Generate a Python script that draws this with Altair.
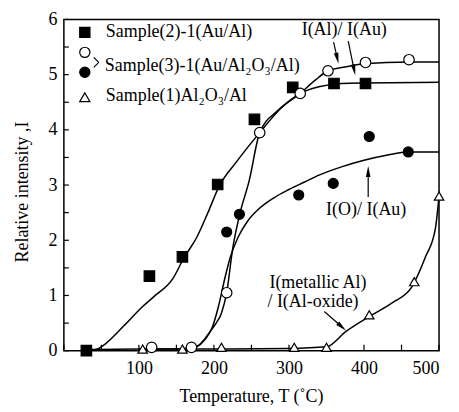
import math
import altair as alt
import pandas as pd

FONT = "Liberation Serif, Times New Roman, DejaVu Serif, serif"

# ---------------- measured points ----------------
sq_T = [30, 114, 158, 205, 254, 305, 360, 402]
sq_I = [0.0, 1.35, 1.70, 3.01, 4.19, 4.77, 4.84, 4.84]
oc_T = [117, 170, 217, 261, 315, 352, 402, 460]
oc_I = [0.06, 0.06, 1.05, 3.95, 4.66, 5.07, 5.22, 5.27]
fc_T = [217, 234, 313, 359, 407, 459]
fc_I = [2.15, 2.47, 2.82, 3.03, 3.88, 3.60]
tr_T = [105, 158, 210, 307, 350, 407, 467, 500]
tr_I = [0.03, 0.03, 0.06, 0.06, 0.06, 0.65, 1.25, 2.80]

# ---------------- drawn curves ----------------
sqc_T = [30, 45, 55, 80, 105, 120, 145, 160, 177, 192, 207, 230, 261, 290, 315, 340, 370, 400, 500]
sqc_I = [0.0, 0.03, 0.12, 0.45, 0.8, 0.98, 1.3, 1.68, 2.05, 2.5, 2.98, 3.42, 3.95, 4.4, 4.66, 4.78, 4.84, 4.85, 4.86]
occ_T = [100, 130, 160, 172, 180, 187, 195, 203, 210, 217, 225, 234, 247, 261, 285, 315, 335, 352, 375, 402, 430, 460, 500]
occ_I = [0.03, 0.03, 0.04, 0.06, 0.1, 0.2, 0.35, 0.5, 0.68, 1.05, 1.85, 2.45, 3.08, 3.95, 4.35, 4.66, 4.9, 5.07, 5.14, 5.2, 5.22, 5.23, 5.23]
fcc_T = [160, 177, 188, 198, 206, 214, 222, 232, 245, 260, 280, 300, 320, 340, 370, 400, 430, 459, 500]
fcc_I = [0.02, 0.07, 0.2, 0.43, 0.8, 1.28, 1.7, 2.05, 2.35, 2.57, 2.77, 2.92, 3.05, 3.18, 3.33, 3.45, 3.54, 3.6, 3.6]
trc_T = [30, 100, 200, 300, 350, 376, 407, 438, 464, 482, 495, 500]
trc_I = [0.02, 0.03, 0.03, 0.04, 0.07, 0.35, 0.62, 0.87, 1.16, 1.7, 2.2, 2.8]

x_ticks = [0, 50, 100, 150, 200, 250, 300, 350, 400, 450, 500]
y_ticks = [0, 0.5, 1, 1.5, 2, 2.5, 3, 3.5, 4, 4.5, 5, 5.5, 6]
x_labels = [100, 200, 300, 400, 500]
y_labels = [0, 1, 2, 3, 4, 5, 6]

W, H = 376, 332

xs = alt.Scale(domain=[0, 500], nice=False, zero=False)
ys = alt.Scale(domain=[0, 6], nice=False, zero=False)
xa = alt.Axis(values=x_labels, title=None, ticks=False, domain=False, grid=False,
              labelFont=FONT, labelFontSize=18, labelColor="black", labelPadding=9, tickSize=0)
ya = alt.Axis(values=y_labels, title=None, ticks=False, domain=False, grid=False,
              labelFont=FONT, labelFontSize=18, labelColor="black", labelPadding=7, tickSize=0, format="d")

# curves table
rows = []
for name, T, I in [("sq", sqc_T, sqc_I), ("oc", occ_T, occ_I), ("fc", fcc_T, fcc_I), ("tr", trc_T, trc_I)]:
    for k, (t, v) in enumerate(zip(T, I)):
        rows.append({"series": name, "k": k, "T": t, "I": v})
curves_df = pd.DataFrame(rows)

curves = alt.Chart(curves_df).mark_line(interpolate="monotone", color="black", strokeWidth=1.5).encode(
    x=alt.X("T:Q", scale=xs, axis=xa),
    y=alt.Y("I:Q", scale=ys, axis=ya),
    detail="series:N",
    order="k:Q",
)


def pts(T, I, shape, fill, size):
    df = pd.DataFrame({"T": T, "I": I})
    return alt.Chart(df).mark_point(shape=shape, filled=True, fill=fill, stroke="black", strokeWidth=1.2,
                                    size=size, opacity=1).encode(
        x=alt.X("T:Q", scale=xs, axis=xa), y=alt.Y("I:Q", scale=ys, axis=ya))


p_sq = pts(sq_T, sq_I, "square", "black", 110)
p_oc = pts(oc_T, oc_I, "circle", "white", 110)
p_fc = pts(fc_T, fc_I, "circle", "black", 100)
p_tr = pts(tr_T, tr_I, "triangle-up", "white", 90)

# inward ticks
xt = alt.Chart(pd.DataFrame({"T": x_ticks})).mark_rule(color="black", strokeWidth=1.2).encode(
    x=alt.X("T:Q", scale=xs, axis=xa), y=alt.value(H), y2=alt.value(H - 6))
yt = alt.Chart(pd.DataFrame({"I": y_ticks})).mark_rule(color="black", strokeWidth=1.2).encode(
    y=alt.Y("I:Q", scale=ys, axis=ya), x=alt.value(0), x2=alt.value(5))

# ---------------- annotations (pixel positions) ----------------
arrows = [  # tail x, tail y, tip x, tip y
    (270.3, 22.7, 275.3, 44.3),
    (285.0, 21.7, 292.0, 56.0),
    (305.0, 178.0, 305.0, 147.0),
    (261.0, 292.7, 282.7, 311.7),
]
HEAD = 11
seg, heads = [], []
for x0, y0, x1, y1 in arrows:
    dx, dy = x1 - x0, y1 - y0
    L = math.hypot(dx, dy)
    ux, uy = dx / L, dy / L
    cx, cy = x1 - ux * HEAD / 2, y1 - uy * HEAD / 2
    seg.append({"px": x0, "py": y0, "px2": cx, "py2": cy})
    ang = math.degrees(math.atan2(dx, -dy)) % 360
    heads.append({"px": cx, "py": cy, "a": ang})

# legend bracket
seg += [{"px": 30, "py": 38, "px2": 35, "py2": 43}, {"px": 35, "py": 43, "px2": 30, "py2": 48}]

seg_layer = alt.Chart(pd.DataFrame(seg)).mark_rule(color="black", strokeWidth=1.2).encode(
    x=alt.X("px:Q", scale=None), y=alt.Y("py:Q", scale=None),
    x2="px2:Q", y2="py2:Q")
head_layer = alt.Chart(pd.DataFrame(heads)).mark_point(
    shape="M0,-1L0.42,1L-0.42,1Z", filled=True, color="black", size=HEAD * HEAD, opacity=1).encode(
    x=alt.X("px:Q", scale=None), y=alt.Y("py:Q", scale=None), angle=alt.Angle("a:Q", scale=None))

txt_c = pd.DataFrame([
    {"px": 281, "py": 11, "t": "I(Al)/ I(Au)"},
    {"px": 303, "py": 191, "t": "I(O)/ I(Au)"},
    {"px": 188, "py": 378, "t": "Temperature, T (\u02daC)"},
])
txt_l = pd.DataFrame([
    {"px": 206, "py": 264, "t": "I(metallic Al)"},
    {"px": 204, "py": 283, "t": "/ I(Al-oxide)"},
    {"px": 42, "py": 13, "t": "Sample(2)-1(Au/Al)"},
    {"px": 41, "py": 47, "t": "Sample(3)-1(Au/Al\u2082O\u2083/Al)"},
    {"px": 42, "py": 77, "t": "Sample(1)Al\u2082O\u2083/Al"},
])
t_center = alt.Chart(txt_c).mark_text(font=FONT, fontSize=18, color="black", align="center", baseline="middle").encode(
    x=alt.X("px:Q", scale=None), y=alt.Y("py:Q", scale=None), text="t:N")
t_left = alt.Chart(txt_l).mark_text(font=FONT, fontSize=18, color="black", align="left", baseline="middle").encode(
    x=alt.X("px:Q", scale=None), y=alt.Y("py:Q", scale=None), text="t:N")
t_ytitle = alt.Chart(pd.DataFrame([{"px": -41, "py": 173, "t": "Relative intensity ,I"}])).mark_text(
    font=FONT, fontSize=18, color="black", align="center", baseline="middle", angle=270).encode(
    x=alt.X("px:Q", scale=None), y=alt.Y("py:Q", scale=None), text="t:N")

leg = pd.DataFrame([
    {"px": 21, "py": 13, "s": "square", "f": "black"},
    {"px": 21, "py": 33, "s": "circle", "f": "white"},
    {"px": 21, "py": 53, "s": "circle", "f": "black"},
    {"px": 21, "py": 78, "s": "triangle-up", "f": "white"},
])
leg_layer = alt.Chart(leg).mark_point(filled=True, stroke="black", strokeWidth=1.2, size=105, opacity=1).encode(
    x=alt.X("px:Q", scale=None), y=alt.Y("py:Q", scale=None),
    shape=alt.Shape("s:N", scale=None), fill=alt.Fill("f:N", scale=None))

chart = alt.layer(
    curves, xt, yt, p_sq, p_oc, p_fc, p_tr, seg_layer, head_layer, t_center, t_left, t_ytitle, leg_layer
).properties(
    width=W, height=H,
    autosize=alt.AutoSizeParams(type="none"),
    padding={"left": 56, "top": 11, "right": 12, "bottom": 64},
    background="white",
).configure_view(stroke="black", strokeWidth=1.5)

chart.save("out.html", embed_options={"renderer": "svg", "actions": False})
